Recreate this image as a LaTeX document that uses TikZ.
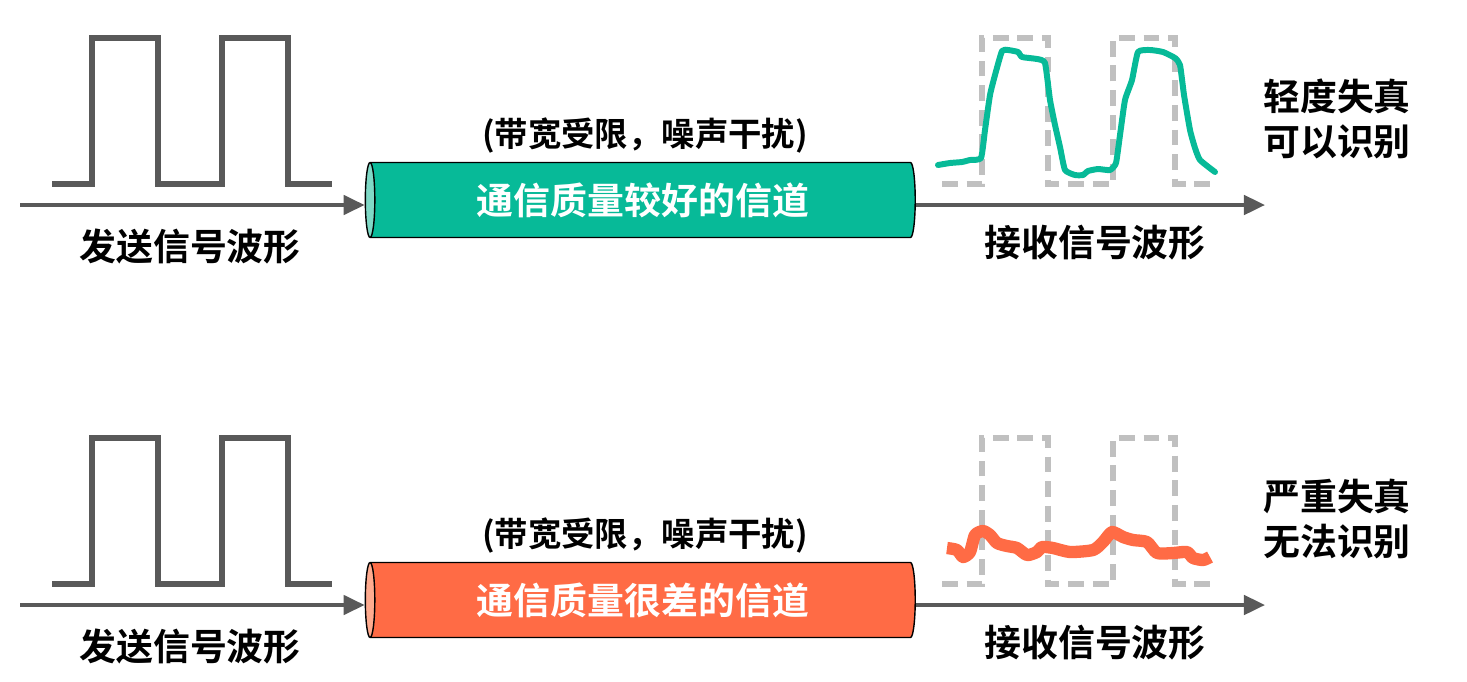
\documentclass[tikz,border=0pt]{standalone}
\usepackage{fontspec}
\setmainfont{Noto Sans CJK SC Bold}
\usetikzlibrary{shapes.geometric,arrows.meta}
\definecolor{wave}{HTML}{595959}
\definecolor{teal}{HTML}{07BA98}
\definecolor{teallt}{HTML}{7FD9C6}
\definecolor{orng}{HTML}{FF6B45}
\definecolor{orlt}{HTML}{FFAB8F}
\definecolor{dash}{HTML}{C0C0C0}
\tikzset{
 sq/.style={draw=wave,line width=3.3pt},
 axis/.style={draw=wave,line width=2.2pt,-{Triangle[length=12pt,width=11pt]}},
 ref/.style={draw=dash,line width=3pt,dash pattern=on 9pt off 5pt},
 lbl/.style={font=\fontsize{21}{24}\selectfont,text=black},
 note/.style={font=\fontsize{19}{22}\selectfont,text=black},
 side/.style={font=\fontsize{21}{25.5}\selectfont,align=left,text=black},
 chan/.style={cylinder,shape border rotate=180,draw=black,line width=0.8pt,
   minimum width=1.5cm,minimum height=11cm,aspect=0.27,cylinder uses custom fill,
   text=white,font=\fontsize{21}{24}\selectfont,inner sep=0pt},
}
\begin{document}
\begin{tikzpicture}[x=0.02cm,y=-0.02cm]
\useasboundingbox (0,0) rectangle (1467,681);
\foreach \o/\c/\cl/\ct/\rt/\rb/\nm in {0/teal/teallt/通信质量较好的信道/轻度失真/可以识别/a,400/orng/orlt/通信质量很差的信道/严重失真/无法识别/b}{
 \begin{scope}[yshift=-\o*0.02cm]
 \draw[sq] (52,184) -| (92,38) -| (158,184) -| (222,38) -| (288,184) -- (332,184);
 \coordinate (l\nm) at (20,205);
 \node[chan,cylinder end fill=\cl,cylinder body fill=\c] (c\nm) at (643,200) {\ct};
 \coordinate (r\nm) at (1265,205);
 \draw[axis] (l\nm) -- (c\nm.west|-l\nm);
 \draw[axis] (c\nm.east|-r\nm) -- (r\nm);
 \node[lbl] (s\nm) at (190,246) {发送信号波形};
 \node[lbl] (t\nm) at (1095,243) {接收信号波形};
 \node[note] (n\nm) at (645,135) {(带宽受限，噪声干扰)};
 \node[side] (d\nm) at (1337,119) {\rt\\\rb};
 \draw[ref] (942,184) -| (982,38) -| (1048,184) -| (1113,38) -| (1175,184) -- (1215,184);
 \end{scope}
}
\draw[teal,line width=3.4pt,line join=round,line cap=round] plot[smooth,tension=0.3] coordinates {(938,165)(950,163)(962,162)(970,160)(981,158)(985,130)(990,95)(995,75)(1002,51)(1008,50)(1018,52)(1022,57)(1037,59)(1045,63)(1050,100)(1055,125)(1060,147)(1065,170)(1075,175)(1083,175)(1088,171)(1098,169)(1110,170)(1116,163)(1120,135)(1125,100)(1132,80)(1138,52)(1150,50)(1163,52)(1175,58)(1180,65)(1184,95)(1190,130)(1195,148)(1200,160)(1215,172)};
\draw[orng,line width=7pt,line join=round] plot[smooth,tension=0.4] coordinates {(947,548)(957,550)(963,557)(970,552)(975,535)(983,531)(990,535)(997,543)(1007,546)(1017,548)(1027,555)(1037,552)(1042,547)(1053,548)(1070,552)(1093,550)(1103,542)(1112,532)(1123,537)(1133,540)(1147,542)(1157,553)(1173,553)(1187,552)(1193,558)(1203,560)(1210,557)};
\end{tikzpicture}
\end{document}
